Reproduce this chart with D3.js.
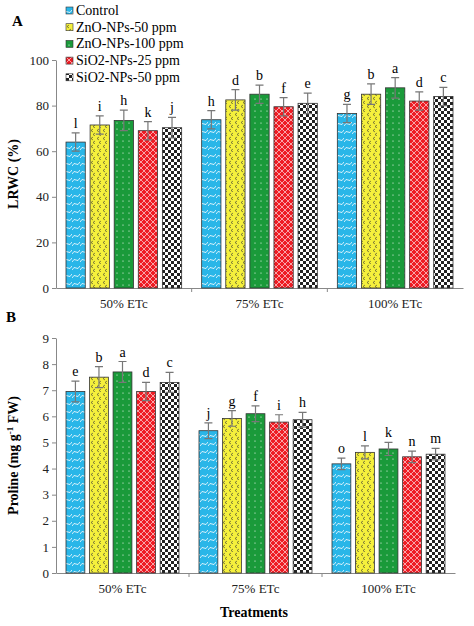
<!DOCTYPE html><html><head><meta charset="utf-8">
<script src="https://cdn.jsdelivr.net/npm/d3@7"></script>
<style>body{margin:0;background:#fff}text{font-family:"Liberation Serif","Times New Roman",serif}</style>
</head><body><svg id="c" width="474" height="626"></svg><script>
const groups=["50% ETc","75% ETc","100% ETc"];
const series=["Control","ZnO-NPs-50 ppm","ZnO-NPs-100 ppm","SiO2-NPs-25 ppm","SiO2-NPs-50 ppm"];
const colors=["#29b6e8","#f5f03c","#1a9a3a","#ee1c24","#222222"];
const lrwc=[[64,71.5,73.5,69,70.3],[73.8,82.5,85,79.5,81],[76.5,85,87.8,82,84]];
const lrwcErr=[[4,4,4.5,4,4.5],[4,4.5,4,4,4.5],[4,4.5,4.5,4,4]];
const lrwcLet=[["l","i","h","k","j"],["h","d","b","f","e"],["g","b","a","d","c"]];
const pro=[[6.95,7.5,7.7,6.95,7.3],[5.45,5.92,6.1,5.78,5.87],[4.18,4.62,4.75,4.45,4.55]];
const proErr=[[0.4,0.4,0.4,0.35,0.38],[0.3,0.3,0.3,0.28,0.28],[0.22,0.25,0.25,0.22,0.22]];
const proLet=[["e","b","a","d","c"],["j","g","f","i","h"],["o","l","k","n","m"]];
const yTicksA=[0,20,40,60,80,100], yTicksB=[0,1,2,3,4,5,6,7,8,9];
const svg=d3.select("#c");
const defs=svg.append("defs");
function pat(id,bg,w,h,draw){const p=defs.append("pattern").attr("id",id).attr("patternUnits","userSpaceOnUse").attr("width",w).attr("height",h);p.append("rect").attr("width",w).attr("height",h).attr("fill",bg);draw(p);}
pat("p0",colors[0],8,8,p=>p.append("path").attr("d","M0,6 Q2,2 4,4 T8,2").attr("stroke","#fff").attr("fill","none").attr("stroke-width",0.8));
pat("p1",colors[1],6,8,p=>p.append("path").attr("d","M3,1 L1,2.5 L3,4 M5,5 L3,6.5 L5,8").attr("stroke","#333").attr("fill","none").attr("stroke-width",0.6));
pat("p2",colors[2],6,6,p=>p.append("circle").attr("cx",3).attr("cy",3).attr("r",0.6).attr("fill","#fff"));
pat("p3",colors[3],6,6,p=>p.append("path").attr("d","M0,3 L3,0 L6,3 L3,6 Z").attr("stroke","#fff").attr("fill","none").attr("stroke-width",0.6));
pat("p4","#fff",6,6,p=>{p.append("rect").attr("width",3).attr("height",3).attr("fill","#222");p.append("rect").attr("x",3).attr("y",3).attr("width",3).attr("height",3).attr("fill","#222");});
function panel(data,err,lets,ticks,ymax,top,bottom,right,ylab){
  const x0=d3.scaleBand().domain(groups).range([56,right]);
  const x1=d3.scaleBand().domain(series).range([10,x0.bandwidth()-10]).paddingInner(0.2);
  const y=d3.scaleLinear().domain([0,ymax]).range([bottom,top]);
  const g=svg.append("g");
  g.append("g").attr("transform","translate(56,0)").call(d3.axisLeft(y).tickValues(ticks).tickSize(4).tickSizeOuter(0))
   .call(a=>{a.selectAll("text").attr("font-size",13).attr("fill","#222").style("font-family","Liberation Serif");a.select(".domain").attr("stroke","#888");a.selectAll("line").attr("stroke","#888");});
  g.append("g").attr("transform",`translate(0,${bottom})`).call(d3.axisBottom(x0).tickSize(0).tickSizeOuter(0))
   .call(a=>{a.selectAll("text").attr("font-size",13).attr("fill","#222").attr("dy","1.3em").style("font-family","Liberation Serif");a.select(".domain").attr("stroke","#888");});
  [1,2].forEach(i=>g.append("line").attr("x1",56+i*x0.step()).attr("x2",56+i*x0.step()).attr("y1",bottom).attr("y2",bottom+4).attr("stroke","#888"));
  groups.forEach((gr,gi)=>series.forEach((s,si)=>{
    const v=data[gi][si],e=err[gi][si],bx=x0(gr)+x1(s),bw=x1.bandwidth(),cx=bx+bw/2;
    g.append("rect").attr("x",bx).attr("y",y(v)).attr("width",bw).attr("height",bottom-y(v)).attr("fill",`url(#p${si})`).attr("stroke","#333").attr("stroke-width",0.8);
    g.append("path").attr("d",`M${cx},${y(v+e)}V${y(v-e)}M${cx-4},${y(v+e)}H${cx+4}M${cx-4},${y(v-e)}H${cx+4}`).attr("stroke","#777").attr("stroke-width",1.2);
    g.append("text").attr("x",cx).attr("y",y(v+e)-5).attr("text-anchor","middle").attr("font-size",14).text(lets[gi][si]);
  }));
  g.append("text").attr("transform",`translate(18,${(top+bottom)/2}) rotate(-90)`).attr("text-anchor","middle").attr("font-size",14).attr("font-weight","bold").html(ylab);
}
panel(lrwc,lrwcErr,lrwcLet,yTicksA,100,60,288,463,"LRWC (%)");
panel(pro,proErr,proLet,yTicksB,9,338,573,455,'Proline (mg g<tspan dy="-5" font-size="9">-1</tspan><tspan dy="5"> FW)</tspan>');
svg.append("text").attr("x",12).attr("y",26).attr("font-size",15).attr("font-weight","bold").text("A");
svg.append("text").attr("x",6).attr("y",322).attr("font-size",15).attr("font-weight","bold").text("B");
svg.append("text").attr("x",254).attr("y",617).attr("text-anchor","middle").attr("font-size",14).attr("font-weight","bold").text("Treatments");
const lg=svg.append("g");
series.forEach((s,i)=>{const yy=11+i*16.7;
  lg.append("rect").attr("x",66).attr("y",yy-4).attr("width",7).attr("height",7).attr("fill",`url(#p${i})`).attr("stroke","#333").attr("stroke-width",0.6);
  lg.append("text").attr("x",76).attr("y",yy+4).attr("font-size",14).text(s);});
</script></body></html>
